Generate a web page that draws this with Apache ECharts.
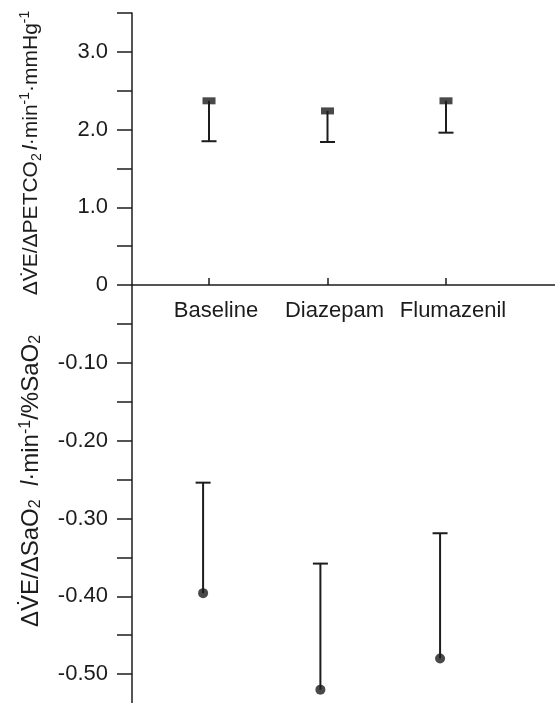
<!DOCTYPE html>
<html>
<head>
<meta charset="utf-8">
<script src="https://cdn.jsdelivr.net/npm/echarts@6/dist/echarts.min.js"></script>
<style>
  html, body { margin: 0; padding: 0; background: #fff; }
  #main { width: 555px; height: 703px; }
</style>
</head>
<body>
<div id="main"></div>
<script>
// groups along the x axis
var categories = ['Baseline', 'Diazepam', 'Flumazenil'];
var catPos = [1, 2, 3];

// upper panel: dVE/dPETCO2, mean and lower SD
var co2Mean = [2.37, 2.24, 2.37];
var co2Lower = [1.85, 1.84, 1.96];

// lower panel: dVE/dSaO2, mean and upper SD (points sit a little left of the ticks in the original)
var sao2Pos = [0.95, 1.94, 2.95];
var sao2Mean = [-0.396, -0.52, -0.48];
var sao2Upper = [-0.254, -0.358, -0.319];

var ink = '#1c1c1c';
var font = '"Liberation Sans", Arial, Helvetica, sans-serif';

function errorBar(params, api) {
  var x = api.value(0);
  var p0 = api.coord([x, api.value(1)]);
  var p1 = api.coord([x, api.value(2)]);
  var half = 7.5;
  return {
    type: 'group',
    children: [
      { type: 'line', shape: { x1: p0[0], y1: p0[1], x2: p1[0], y2: p1[1] }, style: { stroke: ink, lineWidth: 2 } },
      { type: 'line', shape: { x1: p1[0] - half, y1: p1[1], x2: p1[0] + half, y2: p1[1] }, style: { stroke: ink, lineWidth: 2 } }
    ]
  };
}

function richStyle(size, small) {
  return {
    base: { fontSize: size, color: ink, fontFamily: font, lineHeight: 26 },
    sub: { fontSize: small, color: ink, fontFamily: font, verticalAlign: 'bottom', lineHeight: 26 },
    sup: { fontSize: small, color: ink, fontFamily: font, verticalAlign: 'top', lineHeight: 26 },
    it: { fontSize: size, color: ink, fontFamily: font, fontStyle: 'italic', lineHeight: 26 }
  };
}

var chart = echarts.init(document.getElementById('main'));
var option = {
  animation: false,
  backgroundColor: '#fff',
  grid: [
    { left: 132, right: 0, top: 13, height: 272, outerBoundsMode: 'none' },
    { left: 132, right: 0, top: 285, height: 428, outerBoundsMode: 'none' }
  ],
  xAxis: [
    {
      type: 'value', gridIndex: 0, min: 0.35, max: 3.92,
      splitLine: { show: false },
      axisLine: { show: true, onZero: false, lineStyle: { color: ink, width: 1.5 } },
      axisTick: { show: true, inside: true, length: 7, customValues: catPos, lineStyle: { color: ink, width: 1.5 } },
      axisLabel: {
        customValues: catPos, margin: 15, fontSize: 22, color: ink, fontFamily: font,
        padding: [0, 0, 0, 14],
        formatter: function (v) { return categories[catPos.indexOf(v)] || ''; }
      }
    },
    {
      type: 'value', gridIndex: 1, min: 0.35, max: 3.92, show: false
    }
  ],
  yAxis: [
    {
      type: 'value', gridIndex: 0, min: 0, max: 3.5, interval: 0.5,
      splitLine: { show: false },
      axisLine: { show: true, lineStyle: { color: ink, width: 1.5 } },
      axisTick: { show: true, length: 15, lineStyle: { color: ink, width: 1.5 } },
      axisLabel: {
        margin: 24, fontSize: 22, color: ink, fontFamily: font,
        formatter: function (v) {
          if (v === 0) return '0';
          return Math.abs(v % 1) < 1e-6 ? v.toFixed(1) : '';
        }
      },
      name: '{base|ΔV̇E/ΔPETCO}{sub|2} {it|l}{base|·min}{sup|-1}{base|·mmHg}{sup|-1}',
      nameLocation: 'middle', nameRotate: 90, nameGap: 88,
      nameTextStyle: { rich: richStyle(21, 14), padding: [0, 8, 0, 0] }
    },
    {
      type: 'value', gridIndex: 1, min: -0.55, max: 0, interval: 0.05,
      splitLine: { show: false },
      axisLine: { show: true, onZero: false, lineStyle: { color: ink, width: 1.5 } },
      axisTick: { show: true, length: 15, lineStyle: { color: ink, width: 1.5 } },
      axisLabel: {
        margin: 24, fontSize: 22, color: ink, fontFamily: font,
        formatter: function (v) {
          var k = Math.round(Math.abs(v) * 100);
          if (k === 0 || k % 10 !== 0) return '';
          return '-' + (k / 100).toFixed(2);
        }
      },
      name: '{base|ΔV̇E/ΔSaO}{sub|2}{base|  }{it|l}{base|·min}{sup|-1}{base|/%SaO}{sub|2}',
      nameLocation: 'middle', nameRotate: 90, nameGap: 88,
      nameTextStyle: { rich: richStyle(24, 16), padding: [0, 0, 0, 36] }
    }
  ],
  series: [
    {
      type: 'custom', xAxisIndex: 0, yAxisIndex: 0, renderItem: errorBar,
      data: catPos.map(function (x, i) { return [x, co2Mean[i], co2Lower[i]]; }),
      z: 2
    },
    {
      type: 'scatter', xAxisIndex: 0, yAxisIndex: 0, symbol: 'rect', symbolSize: [13, 7],
      itemStyle: { color: ink },
      data: catPos.map(function (x, i) { return [x, co2Mean[i]]; }),
      z: 3
    },
    {
      type: 'custom', xAxisIndex: 1, yAxisIndex: 1, renderItem: errorBar,
      data: sao2Pos.map(function (x, i) { return [x, sao2Mean[i], sao2Upper[i]]; }),
      z: 2
    },
    {
      type: 'scatter', xAxisIndex: 1, yAxisIndex: 1, symbol: 'circle', symbolSize: 10,
      itemStyle: { color: ink },
      data: sao2Pos.map(function (x, i) { return [x, sao2Mean[i]]; }),
      z: 3
    }
  ]
};
chart.setOption(option);
</script>
</body>
</html>
